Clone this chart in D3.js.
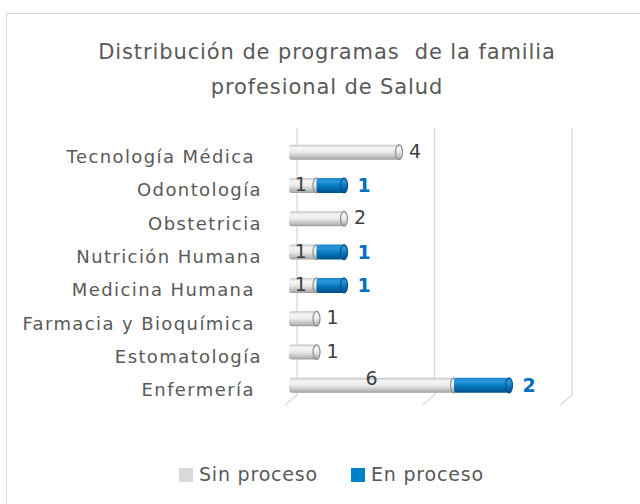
<!DOCTYPE html>
<html>
<head>
<meta charset="utf-8">
<script src="https://cdn.jsdelivr.net/npm/d3@7"></script>
<style>
  body { margin: 0; background: #fff; }
  svg { display: block; font-family: "DejaVu Sans", sans-serif; }
</style>
</head>
<body>
<svg id="chart" width="640" height="504"></svg>
<script>
// chart data
var categories = ["Tecnología Médica ", "Odontología", "Obstetricia", "Nutrición Humana",
                  "Medicina Humana ", "Farmacia y Bioquímica ", "Estomatología", "Enfermería "];
var sinProceso = [4, 1, 2, 1, 1, 1, 1, 6];
var enProceso  = [0, 1, 0, 1, 1, 0, 0, 2];
var seriesNames = ["Sin proceso", "En proceso"];
var xTicks = [0, 5, 10];
var titleLines = ["Distribución de programas  de la familia", "profesional de Salud"];

var svg = d3.select("#chart");
var textColor = "#595959";

// frame
svg.append("rect")
    .attr("x", 6.5).attr("y", 13.5)
    .attr("width", 700).attr("height", 600)
    .attr("fill", "#fff")
    .attr("stroke", "#d9d9d9");

// gradients for the cylinder look
var defs = svg.append("defs");
function cylGrad(id, stops) {
    var g = defs.append("linearGradient").attr("id", id)
        .attr("x1", 0).attr("y1", 0).attr("x2", 0).attr("y2", 1);
    stops.forEach(function(s) {
        g.append("stop").attr("offset", s[0]).attr("stop-color", s[1]);
    });
}
cylGrad("gGray", [[0, "#c4c4c4"], [0.2, "#f5f5f5"], [0.5, "#ebebeb"], [0.85, "#bababa"], [1, "#9c9c9c"]]);
cylGrad("gBlue", [[0, "#1a86cf"], [0.25, "#2a95d8"], [0.5, "#0a7cc6"], [0.85, "#005d9c"], [1, "#004e85"]]);

var x = d3.scaleLinear().domain([0, 10]).range([289, 564]);
var y = d3.scaleBand().domain(categories).range([135.5, 402]);
var barH = 15;

// title
svg.append("g").selectAll("text")
    .data(titleLines)
    .enter().append("text")
    .attr("x", 327)
    .attr("y", function(d, i) { return 59 + i * 35; })
    .attr("text-anchor", "middle")
    .attr("font-size", "21px")
    .attr("letter-spacing", "0.9px")
    .attr("fill", textColor)
    .style("white-space", "pre")
    .text(function(d) { return d; });

// gridlines with the 3D floor
var grid = svg.append("g");
grid.selectAll("path")
    .data(xTicks)
    .enter().append("path")
    .attr("d", function(d) {
        var gx = x(d);
        return "M" + (gx + 8) + ",128 L" + (gx + 8) + ",395 L" + (gx - 4) + ",405";
    })
    .attr("fill", "none")
    .attr("stroke", "#d9d9d9")
    .attr("stroke-width", 1.3);

// category labels
svg.append("g").selectAll("text")
    .data(categories)
    .enter().append("text")
    .attr("x", 262)
    .attr("y", function(d) { return y(d) + y.bandwidth() / 2 + 6; })
    .attr("text-anchor", "end")
    .attr("dominant-baseline", "middle")
    .attr("font-size", "18px")
    .attr("letter-spacing", "1.4px")
    .attr("fill", textColor)
    .style("white-space", "pre")
    .text(function(d) { return d; });

// build stacked rows
var rows = categories.map(function(c, i) {
    return { cat: c, sin: sinProceso[i], en: enProceso[i] };
});

function drawCyl(g, x0, x1, cy, fill, capStroke) {
    var r = barH / 2;
    g.append("rect")
        .attr("x", x0).attr("y", cy - r)
        .attr("width", Math.max(0, x1 - x0)).attr("height", barH)
        .attr("rx", 3)
        .attr("fill", fill);
    g.append("ellipse")
        .attr("cx", x1).attr("cy", cy)
        .attr("rx", 3.5).attr("ry", r)
        .attr("fill", fill)
        .attr("stroke", capStroke)
        .attr("stroke-width", 1.2);
}

var bars = svg.append("g");
rows.forEach(function(d) {
    var cy = y(d.cat) + y.bandwidth() / 2;
    var g = bars.append("g");
    drawCyl(g, x(0), x(d.sin), cy, "url(#gGray)", "#8f8f8f");
    if (d.en > 0) {
        drawCyl(g, x(d.sin), x(d.sin + d.en), cy, "url(#gBlue)", "#00508a");
    }
});

// value labels
var labels = svg.append("g").attr("font-size", "19px");
rows.forEach(function(d) {
    var cy = y(d.cat) + y.bandwidth() / 2;
    if (d.en > 0) {
        labels.append("text")
            .attr("x", (x(0) + x(d.sin)) / 2 - (d.sin > 1 ? 0 : 2))
            .attr("y", cy - (d.sin > 1 ? 6 : 0))
            .attr("text-anchor", "middle")
            .attr("dominant-baseline", "middle")
            .attr("fill", "#404040")
            .text(d.sin);
        labels.append("text")
            .attr("x", x(d.sin + d.en) + 20)
            .attr("y", cy + 1)
            .attr("text-anchor", "middle")
            .attr("dominant-baseline", "middle")
            .attr("font-weight", "bold")
            .attr("fill", "#0070c0")
            .text(d.en);
    } else {
        labels.append("text")
            .attr("x", x(d.sin) + 16)
            .attr("y", cy)
            .attr("text-anchor", "middle")
            .attr("dominant-baseline", "middle")
            .attr("fill", "#404040")
            .text(d.sin);
    }
});

// legend
var legendColors = ["#d9d9d9", "#0082c8"];
var legendX = [179, 351];
var legend = svg.append("g").selectAll("g")
    .data(seriesNames)
    .enter().append("g")
    .attr("transform", function(d, i) { return "translate(" + legendX[i] + ",468)"; });
legend.append("rect")
    .attr("width", 14).attr("height", 14)
    .attr("fill", function(d, i) { return legendColors[i]; });
legend.append("text")
    .attr("x", 20).attr("y", 7)
    .attr("dominant-baseline", "middle")
    .attr("font-size", "19px")
    .attr("letter-spacing", "0.8px")
    .attr("fill", textColor)
    .text(function(d) { return d; });
</script>
</body>
</html>
